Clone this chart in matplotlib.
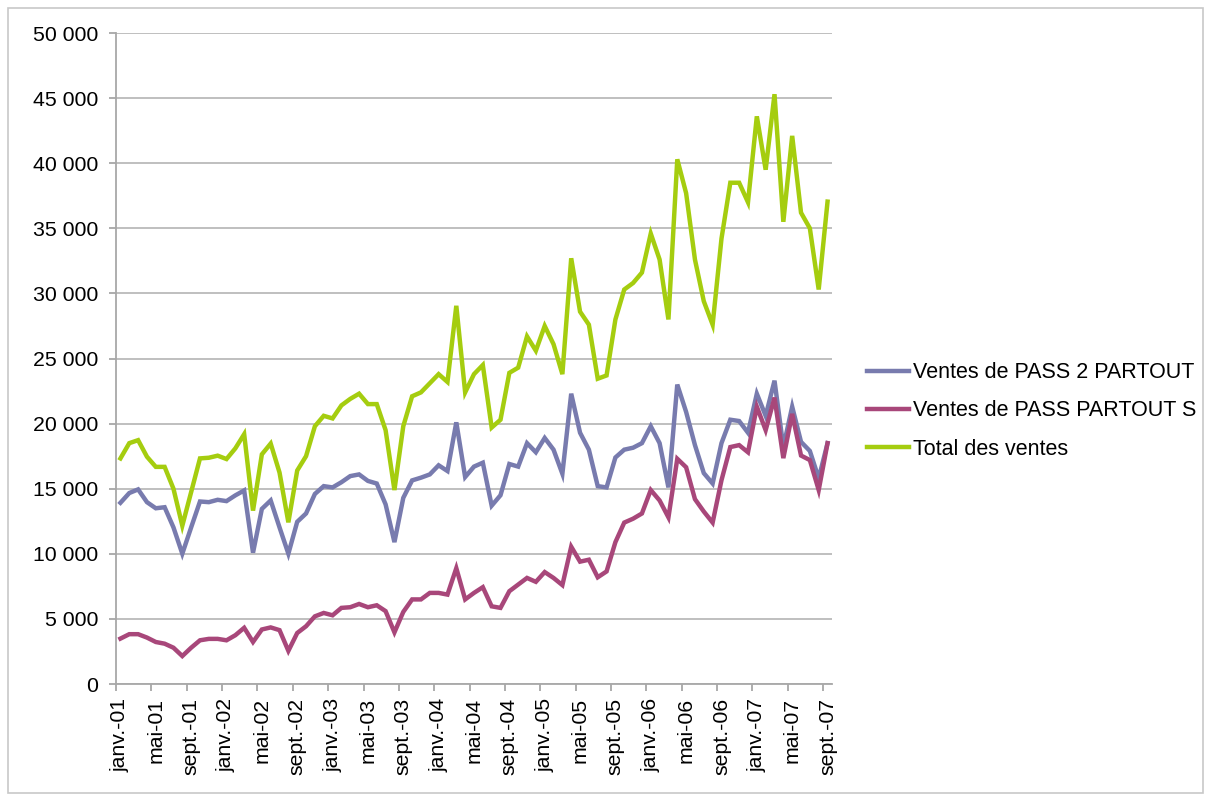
import matplotlib
matplotlib.use('Agg')
import matplotlib.pyplot as plt
from matplotlib.ticker import FuncFormatter, FixedLocator
from matplotlib.patches import Rectangle
import numpy as np

plt.rcParams['font.family'] = ['Liberation Sans', 'DejaVu Sans']

# monthly data, janv.-01 .. sept.-07
mois = ['janv.', 'févr.', 'mars', 'avr.', 'mai', 'juin',
        'juil.', 'août', 'sept.', 'oct.', 'nov.', 'déc.']
labels = [f'{mois[m % 12]}-{1 + m // 12:02d}' for m in range(81)]

pass2 = [13920, 14670, 14950, 13970, 13500, 13580, 12030, 10010, 12030, 14020,
         13970, 14150, 14050, 14490, 14870, 10090, 13450, 14100, 12030, 10010,
         12460, 13100, 14600, 15200, 15100, 15500, 15970, 16100, 15600, 15400,
         13800, 10900, 14300, 15640, 15850, 16100, 16800, 16360, 20100, 15900,
         16700, 17000, 13700, 14500, 16900, 16700, 18500, 17800, 18900, 18000,
         16150, 22300, 19300, 18000, 15200, 15100, 17400, 18000, 18150, 18500,
         19800, 18500, 15100, 23000, 20900, 18350, 16200, 15400, 18500, 20300,
         20200, 19300, 22300, 20600, 23300, 18200, 21300, 18600, 17900, 15800,
         18500]

pass_s = [3490, 3830, 3830, 3570, 3230, 3100, 2790, 2150, 2790, 3360,
          3470, 3470, 3360, 3750, 4320, 3230, 4190, 4350, 4140, 2550,
          3920, 4440, 5200, 5460, 5280, 5850, 5900, 6150, 5900, 6050,
          5600, 3970, 5540, 6500, 6500, 7000, 7000, 6870, 8900, 6500,
          7000, 7440, 5970, 5850, 7130, 7640, 8150, 7850, 8600, 8150,
          7600, 10550, 9400, 9550, 8200, 8650, 10900, 12400, 12700, 13100,
          14900, 14100, 12800, 17300, 16650, 14200, 13250, 12400, 15650, 18200,
          18350, 17800, 21300, 19500, 22000, 17350, 20750, 17550, 17200, 14900,
          18500]

total = [17330, 18500, 18730, 17460, 16680, 16680, 15000, 12160, 14740, 17330,
         17380, 17540, 17280, 18100, 19190, 13320, 17640, 18470, 16240, 12420,
         16400, 17500, 19800, 20600, 20400, 21400, 21900, 22300, 21500, 21500,
         19500, 14900, 19800, 22100, 22400, 23100, 23800, 23200, 29050, 22400,
         23800, 24500, 19700, 20300, 23900, 24300, 26700, 25600, 27500, 26100,
         23800, 32700, 28600, 27600, 23450, 23700, 28000, 30300, 30800, 31600,
         34600, 32600, 28000, 40300, 37700, 32600, 29400, 27600, 34200, 38500,
         38500, 37000, 43600, 39500, 45300, 35500, 42100, 36200, 35000, 30300,
         37050]

series = [
    ('Ventes de PASS 2 PARTOUT', pass2, '#787BAE'),
    ('Ventes de PASS PARTOUT S', pass_s, '#A8477A'),
    ('Total des ventes', total, '#A5CD0F'),
]

fig = plt.figure(figsize=(12.11, 8.01), dpi=100)
ax = fig.add_axes([0.0958, 0.146, 0.5912, 0.8128])

x = np.arange(len(labels))
for name, vals, col in series:
    ax.plot(x, vals, color=col, lw=3.2, label=name, solid_joinstyle='miter')

ax.set_xlim(-0.5, 80.5)
ax.set_ylim(0, 50000)
ax.set_yticks(np.arange(0, 50001, 5000))
ax.yaxis.set_major_formatter(FuncFormatter(lambda v, p: f'{int(v):,}'.replace(',', ' ')))
ax.grid(axis='y', color='#B4B4B4', lw=1.2)
ax.set_axisbelow(True)

# tick marks on category boundaries, labels every 4 months
ax.xaxis.set_major_locator(FixedLocator(np.arange(-0.5, 81, 4)))
ax.xaxis.set_minor_locator(FixedLocator(x[::4]))
ax.set_xticklabels([], minor=False)
ax.set_xticklabels(labels[::4], minor=True, rotation=90)
ax.tick_params(axis='x', which='major', length=5, color='#A0A0A0', width=1.2)
ax.tick_params(axis='x', which='minor', length=0, pad=10, labelsize=15.3)
ax.tick_params(axis='y', length=5, color='#A0A0A0', width=1.2, pad=8, labelsize=15.3)

for s in ['top', 'right']:
    ax.spines[s].set_visible(False)
for s in ['left', 'bottom']:
    ax.spines[s].set_color('#A8A8A8')
    ax.spines[s].set_linewidth(1.3)

fig.legend(loc='center left', bbox_to_anchor=(0.7, 0.487), frameon=False,
           fontsize=15.5, handlelength=1.95, handletextpad=0.2, labelspacing=0.8)

fig.patches.append(Rectangle((0.007, 0.01), 0.986, 0.98, transform=fig.transFigure,
                             fill=False, edgecolor='#C8C8C8', lw=1.2))

fig.savefig('out.png', dpi=100)
